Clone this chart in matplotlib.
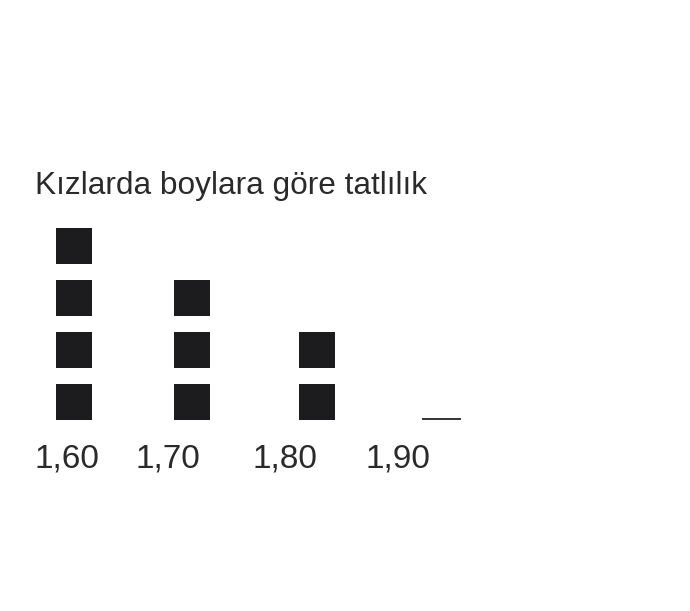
import matplotlib
matplotlib.use("Agg")
import matplotlib.pyplot as plt

# data
heights = ["1,60", "1,70", "1,80", "1,90"]
counts = [4, 3, 2, 0]
title = "Kızlarda boylara göre tatlılık"

# layout (pixel units, y grows downward)
col_x = [74, 191.5, 316.5, 441.5]
label_x = [66.5, 168, 285, 397.5]
base_y = 420
sq = 36
pitch = 52

plt.rcParams["font.family"] = ["Liberation Sans", "DejaVu Sans"]

fig = plt.figure(figsize=(6.9, 6.11), dpi=100)
ax = fig.add_axes([0, 0, 1, 1])
ax.set_xlim(0, 690)
ax.set_ylim(611, 0)
ax.axis("off")

ink = "#1c1c1e"
for x, n in zip(col_x, counts):
    if n == 0:
        ax.plot([x - 18.5, x + 18.5], [base_y - 1, base_y - 1], color="#333333", lw=1.4)
        continue
    for k in range(n):
        ax.bar(x, -sq, bottom=base_y - k * pitch, width=sq, color=ink, linewidth=0)

for lx, lab in zip(label_x, heights):
    ax.text(lx, 468, lab, ha="center", va="baseline", fontsize=24,
            color="#2a2a2a")

ax.text(35, 194, title, ha="left", va="baseline", fontsize=22.8,
        color="#2a2a2a")

fig.savefig("out.png", dpi=100, facecolor="white")
